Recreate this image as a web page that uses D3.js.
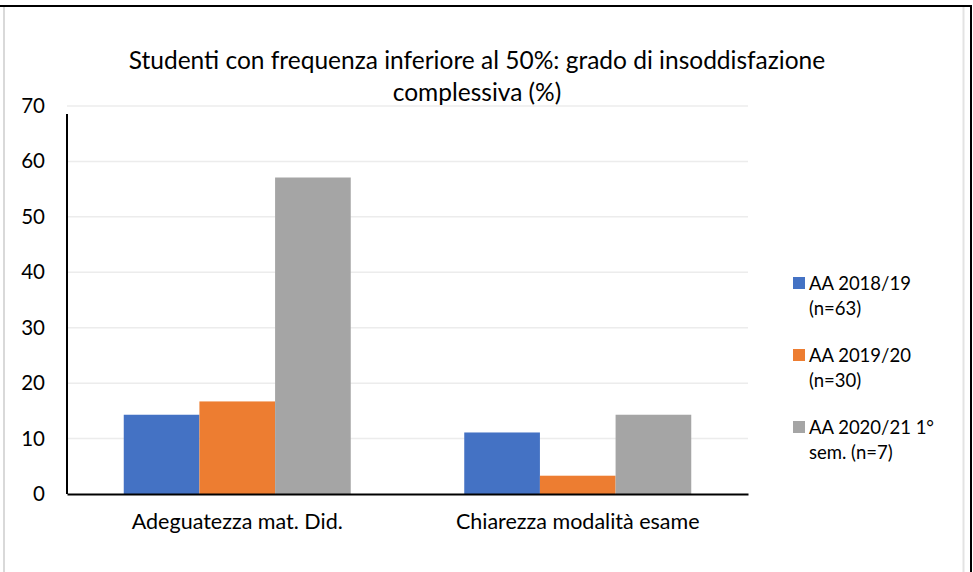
<!DOCTYPE html>
<html>
<head>
<meta charset="utf-8">
<script src="https://cdn.jsdelivr.net/npm/d3@7"></script>
<style>
  body { margin: 0; background: #fff; overflow: hidden; }
  svg { display: block; font-family: Lato, "Open Sans", sans-serif; }
</style>
</head>
<body>
<svg width="973" height="572"></svg>
<script>
// chart data
const categories = ['Adeguatezza mat. Did.', 'Chiarezza modalità esame'];
const seriesNames = ['AA 2018/19', 'AA 2019/20', 'AA 2020/21 1° sem.'];
const legendLines = [['AA 2018/19', '(n=63)'], ['AA 2019/20', '(n=30)'], ['AA 2020/21 1°', 'sem. (n=7)']];
const series2018 = [14.3, 11.1];
const series2019 = [16.7, 3.3];
const series2020 = [57.1, 14.3];
const yTicks = [0, 10, 20, 30, 40, 50, 60, 70];
const colors = ['#4472C4', '#ED7D31', '#A5A5A5'];

const svg = d3.select('svg');
const width = +svg.attr('width');
const height = +svg.attr('height');

// frame
svg.append('line').attr('x1', 0).attr('x2', 971).attr('y1', 6).attr('y2', 6)
  .attr('stroke', '#000').attr('stroke-width', 2);
svg.append('line').attr('x1', 971).attr('x2', 971).attr('y1', 5).attr('y2', height)
  .attr('stroke', '#000').attr('stroke-width', 2);
svg.append('line').attr('x1', 4).attr('x2', 4).attr('y1', 7).attr('y2', height)
  .attr('stroke', '#d9d9d9').attr('stroke-width', 2);
svg.append('line').attr('x1', 963.5).attr('x2', 963.5).attr('y1', 7).attr('y2', height)
  .attr('stroke', '#e3e3e3').attr('stroke-width', 2);

const margin = { top: 106, left: 67, right: 225, bottom: 78 };
const innerWidth = width - margin.left - margin.right;
const innerHeight = height - margin.top - margin.bottom;

const g = svg.append('g').attr('transform', `translate(${margin.left},${margin.top})`);

const x0 = d3.scaleBand().domain(categories).range([0, innerWidth])
  .paddingInner(1 / 3).paddingOuter(1 / 6);
const x1 = d3.scaleBand().domain(seriesNames).range([0, x0.bandwidth()]);
const y = d3.scaleLinear().domain([0, 70]).range([innerHeight, 0]);

// gridlines
g.append('g').selectAll('line').data(yTicks.filter(d => d > 0)).enter().append('line')
  .attr('x1', 0).attr('x2', innerWidth)
  .attr('y1', d => y(d)).attr('y2', d => y(d))
  .attr('stroke', '#ececec').attr('stroke-width', 1.5);

// bars
const rows = categories.map((c, i) => ({ cat: c, vals: [series2018[i], series2019[i], series2020[i]] }));
const groups = g.selectAll('.grp').data(rows).enter().append('g')
  .attr('transform', d => `translate(${x0(d.cat)},0)`);
groups.selectAll('rect').data(d => d.vals.map((v, k) => ({ name: seriesNames[k], v, k })))
  .enter().append('rect')
  .attr('x', d => x1(d.name))
  .attr('y', d => y(d.v))
  .attr('width', x1.bandwidth())
  .attr('height', d => innerHeight - y(d.v))
  .attr('fill', d => colors[d.k]);

// axes
const yAxis = g.append('g').call(d3.axisLeft(y).tickValues(yTicks).tickSize(0).tickPadding(22))
  .attr('font-size', 20.5).attr('font-family', 'Lato, sans-serif');
yAxis.select('.domain').attr('stroke', '#000').attr('stroke-width', 2).attr('d', `M0,${y(70) + 8}V${innerHeight}`);
yAxis.selectAll('text').attr('fill', '#000');

const xAxis = g.append('g').attr('transform', `translate(0,${innerHeight})`)
  .call(d3.axisBottom(x0).tickSize(0).tickPadding(20))
  .attr('font-size', 21.5).attr('font-family', 'Lato, sans-serif');
xAxis.select('.domain').attr('stroke', '#000').attr('stroke-width', 2);
xAxis.selectAll('text').attr('fill', '#000');

// title
const title = svg.append('text').attr('text-anchor', 'middle').attr('font-size', 24.5).attr('fill', '#000');
title.append('tspan').attr('x', 477).attr('y', 69).text('Studenti con frequenza inferiore al 50%: grado di insoddisfazione');
title.append('tspan').attr('x', 477).attr('y', 101).text('complessiva (%)');

// legend
const legend = svg.append('g').attr('transform', 'translate(793,277)');
const item = legend.selectAll('g').data(legendLines).enter().append('g')
  .attr('transform', (d, i) => `translate(0,${i * 72})`);
item.append('rect').attr('width', 12).attr('height', 12).attr('fill', (d, i) => colors[i]);
item.append('text').attr('x', 16).attr('y', 13).attr('font-size', 18.5).text(d => d[0]);
item.append('text').attr('x', 16).attr('y', 38).attr('font-size', 18.5).text(d => d[1]);
</script>
</body>
</html>
